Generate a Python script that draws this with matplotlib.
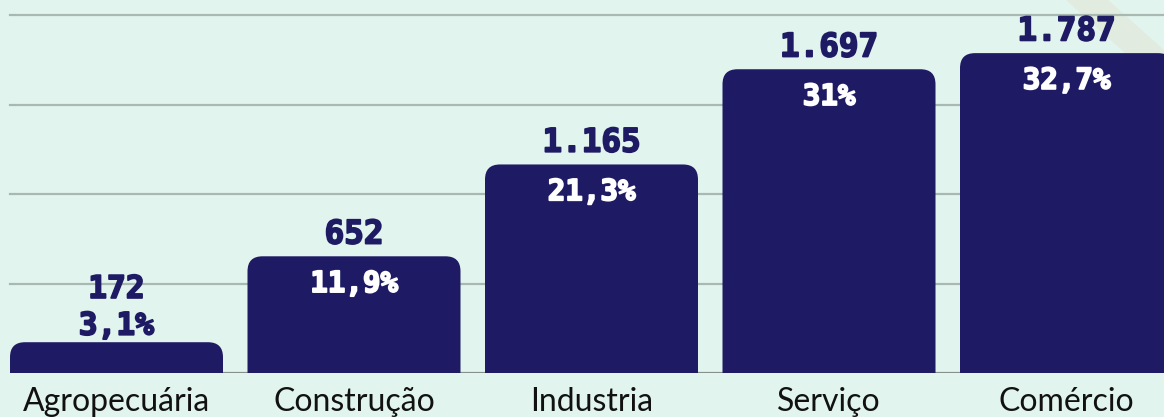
import matplotlib.pyplot as plt
import matplotlib.patheffects as pe
from matplotlib.patches import FancyBboxPatch, Polygon

categorias = ["Agropecuária", "Construção", "Industria", "Serviço", "Comércio"]
valores = [172, 652, 1165, 1697, 1787]
rotulos_valor = ["172", "652", "1.165", "1.697", "1.787"]
rotulos_pct = ["3,1%", "11,9%", "21,3%", "31%", "32,7%"]

fundo = "#e1f4ee"
azul = "#1e1b64"
grade = "#a9b9b2"

W, H = 1164, 417
fig = plt.figure(figsize=(W / 100, H / 100), dpi=100, facecolor=fundo)

passo = 237.5
larg = 213 / passo
x0 = -larg / 2
ax = fig.add_axes([10 / W, 44 / H, 1154 / W, 358 / H])
ax.set_facecolor("none")
ax.set_xlim(x0, x0 + 1154 / passo)
ax.set_ylim(0, 2000)

# faixa decorativa no canto superior direito (atras das barras)
faixa = Polygon([(1067 / W, 1), (1107 / W, 1), (1, 1 - 51 / H), (1, 1 - 87 / H)],
                closed=True, transform=fig.transFigure, color="#e2ebe0",
                zorder=0.5, clip_on=False)
ax.add_artist(faixa)

for y in [500, 1000, 1500, 2000]:
    ax.axhline(y, color=grade, lw=1.6, zorder=1, clip_on=False)
ax.axhline(0, color="#86918c", lw=1.6, zorder=1)

# barras com cantos superiores arredondados
raio_px = 15
rx = raio_px / passo
ry = raio_px * 2000 / 358
barras = ax.bar(range(len(valores)), valores, width=larg, color=azul)
for b in barras:
    b.set_visible(False)
    p = FancyBboxPatch((b.get_x(), -300), b.get_width(), b.get_height() + 300,
                       boxstyle=f"round,pad=0,rounding_size={rx}",
                       mutation_aspect=ry / rx, fc=azul, ec="none", zorder=2)
    ax.add_patch(p)

fonte_num = "DejaVu Sans Mono"


def rotulo(texto, i, v, dy, tam, cor):
    ax.annotate(texto, (i, v), xytext=(0, dy), textcoords="offset points",
                ha="center", va="center", fontsize=tam, fontweight="bold",
                color=cor, family=fonte_num, zorder=3,
                path_effects=[pe.withStroke(linewidth=1.3, foreground=cor)])


for i, v in enumerate(valores):
    if i == 0:
        rotulo(rotulos_valor[i], i, v, 38, 22.5, azul)
        rotulo(rotulos_pct[i], i, v, 11.5, 22.5, azul)
    else:
        rotulo(rotulos_valor[i], i, v, 16, 23.5, azul)
        rotulo(rotulos_pct[i], i, v, -20, 21, "white")

ax.set_xticks(range(len(categorias)))
ax.set_xticklabels(categorias, fontsize=23, family="Lato", color="#111111")
ax.tick_params(axis="x", length=0, pad=10)
ax.set_yticks([])
for s in ax.spines.values():
    s.set_visible(False)

fig.savefig("out.png", dpi=100, facecolor=fundo)
